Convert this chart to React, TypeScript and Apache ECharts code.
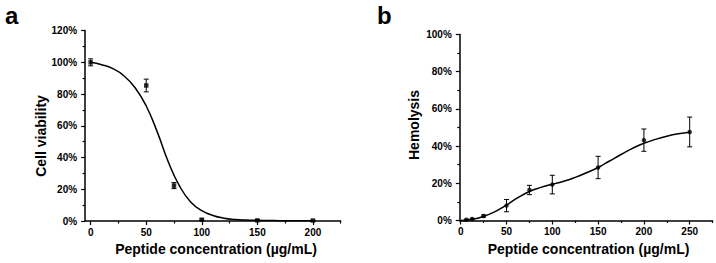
import React, { useEffect, useRef } from "react";
import * as echarts from "echarts";

// ---- Panel a: cell viability ----
const viabilityX = [0, 50, 75, 100, 150, 200];
const viabilityY = [100, 85.4, 22.3, 0.8, 0.4, 0.3];
const viabilityErr = [2.2, 4.0, 1.9, 0.5, 0.3, 0.3];
const viabilityCurveX = [0, 10, 20, 30, 40, 50, 60, 70, 80, 90, 100, 110, 120, 130, 140, 150, 160, 170, 180, 190, 200];
const viabilityCurveY = [100, 98.5, 96, 91.5, 84, 72.5, 56, 37, 22, 12, 6.5, 3.5, 1.8, 1.0, 0.6, 0.4, 0.3, 0.2, 0.15, 0.1, 0.1];
const viabilityXTicks = [0, 50, 100, 150, 200];
const viabilityXMinor = [25, 75, 125, 175, 225];

// ---- Panel b: hemolysis ----
const hemoX = [6.25, 12.5, 25, 50, 75, 100, 150, 200, 250];
const hemoY = [0.4, 0.8, 2.4, 8.0, 16.4, 19.3, 28.5, 43.2, 47.6];
const hemoErr = [0.3, 0.4, 0.6, 3.3, 2.5, 5, 6, 6, 8];
const hemoCurveX = [0, 12.5, 25, 37.5, 50, 62.5, 75, 87.5, 100, 112.5, 125, 137.5, 150, 162.5, 175, 187.5, 200, 212.5, 225, 237.5, 250];
const hemoCurveY = [0, 0.6, 2.2, 4.8, 8.3, 12.3, 15.6, 17.8, 19.5, 21.1, 23.2, 25.7, 28.5, 32, 35.5, 38.8, 41.5, 43.6, 45.3, 46.6, 47.5];
const hemoXTicks = [0, 50, 100, 150, 200, 250];
const hemoXMinor = [25, 75, 125, 175, 225, 275];

const FONT = '"Liberation Sans", Arial, Helvetica, sans-serif';

function errData(xs: number[], ys: number[], es: number[]) {
  return xs.map((x, i) => [x, ys[i] - es[i], ys[i] + es[i]]);
}

function errRender(params: any, api: any) {
  const x = api.value(0);
  const lo = api.value(1);
  const hi = api.value(2);
  const p1 = api.coord([x, hi]);
  const p2 = api.coord([x, lo]);
  const hw = 2.5;
  const st = { stroke: "#000", lineWidth: 1 };
  return {
    type: "group",
    children: [
      { type: "line", shape: { x1: p1[0], y1: p1[1], x2: p2[0], y2: p2[1] }, style: st },
      { type: "line", shape: { x1: p1[0] - hw, y1: p1[1], x2: p1[0] + hw, y2: p1[1] }, style: st },
      { type: "line", shape: { x1: p2[0] - hw, y1: p2[1], x2: p2[0] + hw, y2: p2[1] }, style: st },
    ],
  };
}

const labelStyle = { color: "#000", fontFamily: FONT, fontWeight: "bold" as const, fontSize: 10 };

function mainX(gridIndex: number, min: number, max: number, ticks: number[]) {
  return {
    type: "value",
    gridIndex,
    min,
    max,
    position: "bottom",
    offset: 0,
    axisLine: { show: true, onZero: false, lineStyle: { color: "#000", width: 1.5 } },
    axisTick: { show: true, customValues: ticks, length: 4, lineStyle: { color: "#000", width: 1.2 } },
    axisLabel: { show: true, customValues: ticks, margin: 6, ...labelStyle },
    splitLine: { show: false },
  };
}

function minorX(gridIndex: number, min: number, max: number, ticks: number[]) {
  return {
    type: "value",
    gridIndex,
    min,
    max,
    position: "bottom",
    offset: 0,
    axisLine: { show: false, onZero: false },
    axisTick: { show: true, customValues: ticks, length: 2.5, lineStyle: { color: "#000", width: 1.2 } },
    axisLabel: { show: false },
    splitLine: { show: false },
  };
}

function yAx(gridIndex: number, max: number) {
  return {
    type: "value",
    gridIndex,
    min: 0,
    max,
    interval: 20,
    axisLine: { show: true, onZero: false, lineStyle: { color: "#000", width: 1.5 } },
    axisTick: { show: true, length: 4, lineStyle: { color: "#000", width: 1.2 } },
    minorTick: { show: true, splitNumber: 2, length: 2.5, lineStyle: { color: "#000", width: 1.2 } },
    axisLabel: { formatter: "{value}%", margin: 8, ...labelStyle },
    splitLine: { show: false },
    minorSplitLine: { show: false },
  };
}

export default function App() {
  const ref = useRef<HTMLDivElement>(null);
  useEffect(() => {
    if (!ref.current) return;
    const chart = echarts.init(ref.current, null, { renderer: "svg" });
    const titleStyle = { fill: "#000", font: `bold 14px ${FONT}`, textAlign: "center", textVerticalAlign: "middle" };
    chart.setOption({
      animation: false,
      backgroundColor: "#fff",
      grid: [
        { left: 85.1, top: 30.6, width: 255.6, height: 190.4, outerBoundsMode: "none", containLabel: false },
        { left: 459.8, top: 34.5, width: 252.8, height: 186, outerBoundsMode: "none", containLabel: false },
      ],
      xAxis: [
        mainX(0, -5, 225, viabilityXTicks),
        minorX(0, -5, 225, viabilityXMinor),
        mainX(1, -1, 275, hemoXTicks),
        minorX(1, -1, 275, hemoXMinor),
      ],
      yAxis: [yAx(0, 120), yAx(1, 100)],
      series: [
        {
          type: "line",
          xAxisIndex: 0,
          yAxisIndex: 0,
          data: viabilityCurveX.map((x, i) => [x, viabilityCurveY[i]]),
          smooth: 0.5,
          showSymbol: false,
          symbol: "none",
          lineStyle: { color: "#000", width: 1.5 },
          z: 2,
        },
        {
          type: "custom",
          xAxisIndex: 0,
          yAxisIndex: 0,
          data: errData(viabilityX, viabilityY, viabilityErr),
          encode: { x: 0, y: [1, 2] },
          renderItem: errRender,
          z: 3,
        },
        {
          type: "scatter",
          xAxisIndex: 0,
          yAxisIndex: 0,
          data: viabilityX.map((x, i) => [x, viabilityY[i]]),
          symbol: "rect",
          symbolSize: 4.5,
          itemStyle: { color: "#000" },
          z: 4,
        },
        {
          type: "line",
          xAxisIndex: 2,
          yAxisIndex: 1,
          data: hemoCurveX.map((x, i) => [x, hemoCurveY[i]]),
          smooth: 0.5,
          showSymbol: false,
          symbol: "none",
          lineStyle: { color: "#000", width: 1.5 },
          z: 2,
        },
        {
          type: "custom",
          xAxisIndex: 2,
          yAxisIndex: 1,
          data: errData(hemoX, hemoY, hemoErr),
          encode: { x: 0, y: [1, 2] },
          renderItem: errRender,
          z: 3,
        },
        {
          type: "scatter",
          xAxisIndex: 2,
          yAxisIndex: 1,
          data: hemoX.map((x, i) => [x, hemoY[i]]),
          symbol: "circle",
          symbolSize: 4.5,
          itemStyle: { color: "#000" },
          z: 4,
        },
      ],
      graphic: [
        { type: "text", left: 5, top: 3, style: { text: "a", fill: "#000", font: `bold 24px ${FONT}` } },
        { type: "text", left: 377, top: 3, style: { text: "b", fill: "#000", font: `bold 24px ${FONT}` } },
        { type: "text", x: 41, y: 136, rotation: Math.PI / 2, style: { text: "Cell viability", ...titleStyle } },
        { type: "text", x: 414, y: 125, rotation: Math.PI / 2, style: { text: "Hemolysis", ...titleStyle } },
        { type: "text", x: 216, y: 249, style: { text: "Peptide concentration (µg/mL)", ...titleStyle } },
        { type: "text", x: 588.5, y: 249, style: { text: "Peptide concentration (µg/mL)", ...titleStyle } },
      ],
    });
    return () => chart.dispose();
  }, []);
  return (
    <div
      ref={ref}
      style={{ position: "fixed", left: 0, top: 0, width: 716, height: 263, background: "#fff" }}
    />
  );
}
